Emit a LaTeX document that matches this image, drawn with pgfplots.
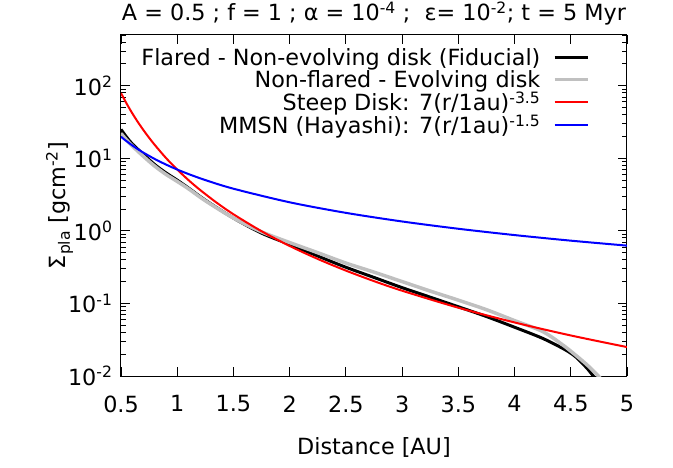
\documentclass[border=0pt]{standalone}
\usepackage{fontspec}
\setmainfont{DejaVu Sans}
\usepackage{pgfplots}
\pgfplotsset{compat=1.18}
\newcommand\ff{\fontsize{22.3bp}{26.8bp}\selectfont}
\definecolor{lgrey}{HTML}{C0C0C0}
\pgfplotstableread{
x y
0.50 25.0
0.55 19.6
0.60 15.8
0.70 11.3
0.80 8.2
0.90 6.3
1.00 5.0
1.10 3.9
1.25 2.65
1.50 1.5
1.75 0.93
2.00 0.65
2.25 0.45
2.50 0.315
2.75 0.228
3.00 0.165
3.25 0.122
3.50 0.090
3.75 0.066
4.00 0.047
4.25 0.033
4.45 0.023
4.55 0.018
4.65 0.0125
4.70 0.0100
4.75 0.008
}\blackdata
\pgfplotstableread{
x y
0.50 22.0
0.55 17.9
0.60 14.8
0.70 10.6
0.80 7.8
0.90 6.0
1.00 4.8
1.10 3.8
1.25 2.6
1.50 1.5
1.75 0.97
2.00 0.69
2.25 0.50
2.50 0.36
2.75 0.27
3.00 0.20
3.25 0.148
3.50 0.111
3.75 0.082
4.00 0.058
4.25 0.041
4.43 0.0267
4.55 0.019
4.65 0.014
4.745 0.0100
4.80 0.008
}\greydata
\pgfplotstableread{
x y
0.50 79.2
0.55 56.7
0.60 41.8
0.65 31.6
0.70 24.4
0.75 19.2
0.80 15.3
0.90 10.1
1.00 7.0
1.10 5.01
1.20 3.70
1.35 2.45
1.50 1.693
1.75 0.988
2.00 0.619
2.25 0.410
2.50 0.2834
2.75 0.2029
3.00 0.1497
3.50 0.0873
4.00 0.0547
4.50 0.0362
5.00 0.02504
}\reddata
\pgfplotstableread{
x y
0.50 19.80
0.55 17.16
0.60 15.06
0.65 13.36
0.70 11.95
0.80 9.78
0.90 8.20
1.00 7.00
1.10 6.07
1.25 5.01
1.50 3.81
2.00 2.475
2.50 1.771
3.00 1.347
3.50 1.069
4.00 0.875
4.50 0.733
5.00 0.626
}\bluedata
\begin{document}
\begin{tikzpicture}[font=\ff]
\path[use as bounding box] (-121bp,-92bp) rectangle (552bp,376bp);
\begin{axis}[at={(0,0)}, anchor=south west, scale only axis,
 width=506bp, height=341bp,
 xmin=0.5, xmax=5, ymode=log, ymin=0.01, ymax=500,
 xtick={0.5,1,1.5,2,2.5,3,3.5,4,4.5,5},
 xticklabels={0.5,1,1.5,2,2.5,3,3.5,4,4.5,5},
 ytick={0.01,0.1,1,10,100},
 yticklabels={10\textsuperscript{-2},10\textsuperscript{-1},10\textsuperscript{0},10\textsuperscript{1},10\textsuperscript{2}},
 minor ytick={0.02,0.03,0.04,0.05,0.06,0.07,0.08,0.09,0.2,0.3,0.4,0.5,0.6,0.7,0.8,0.9,2,3,4,5,6,7,8,9,20,30,40,50,60,70,80,90,200,300,400,500},
 tick align=inside, tick pos=both, major tick length=9bp, minor tick length=5bp,
 every tick/.style={black, line width=0.8bp},
 axis line style={line width=1bp},
 xticklabel style={yshift=-16bp},
 yticklabel style={xshift=-5bp},
 xlabel={Distance [AU]}, xlabel shift=18bp,
 ylabel={Σ\textsubscript{pla} [gcm\textsuperscript{-2}]}, ylabel shift=-12bp,
 title={A = 0.5 ; f = 1 ; α = 10\textsuperscript{-4} ;\ \ ε= 10\textsuperscript{-2}; t = 5 Myr},
 legend plot pos=right, legend cell align=right,
 legend image code/.code={\draw[#1] (0bp,0bp) -- (33bp,0bp);},
 legend style={at={(0.926,0.965)}, anchor=north east, draw=none, fill=none,
   row sep=0bp, inner sep=0pt, nodes={inner sep=1.5bp},
   /tikz/every odd column/.append style={column sep=11bp}},
]
\addplot[black, line width=3bp, smooth] table[x=x,y=y] {\blackdata};
\addlegendentry{Flared - Non-evolving disk (Fiducial)}
\addplot[lgrey, line width=3.5bp, smooth] table[x=x,y=y] {\greydata};
\addlegendentry{Non-flared - Evolving disk}
\addplot[red, line width=2bp, smooth] table[x=x,y=y] {\reddata};
\addlegendentry{Steep Disk: 7(r/1au)\textsuperscript{-3.5}}
\addplot[blue, line width=2bp, smooth] table[x=x,y=y] {\bluedata};
\addlegendentry{MMSN (Hayashi): 7(r/1au)\textsuperscript{-1.5}}
\end{axis}
\end{tikzpicture}
\end{document}
